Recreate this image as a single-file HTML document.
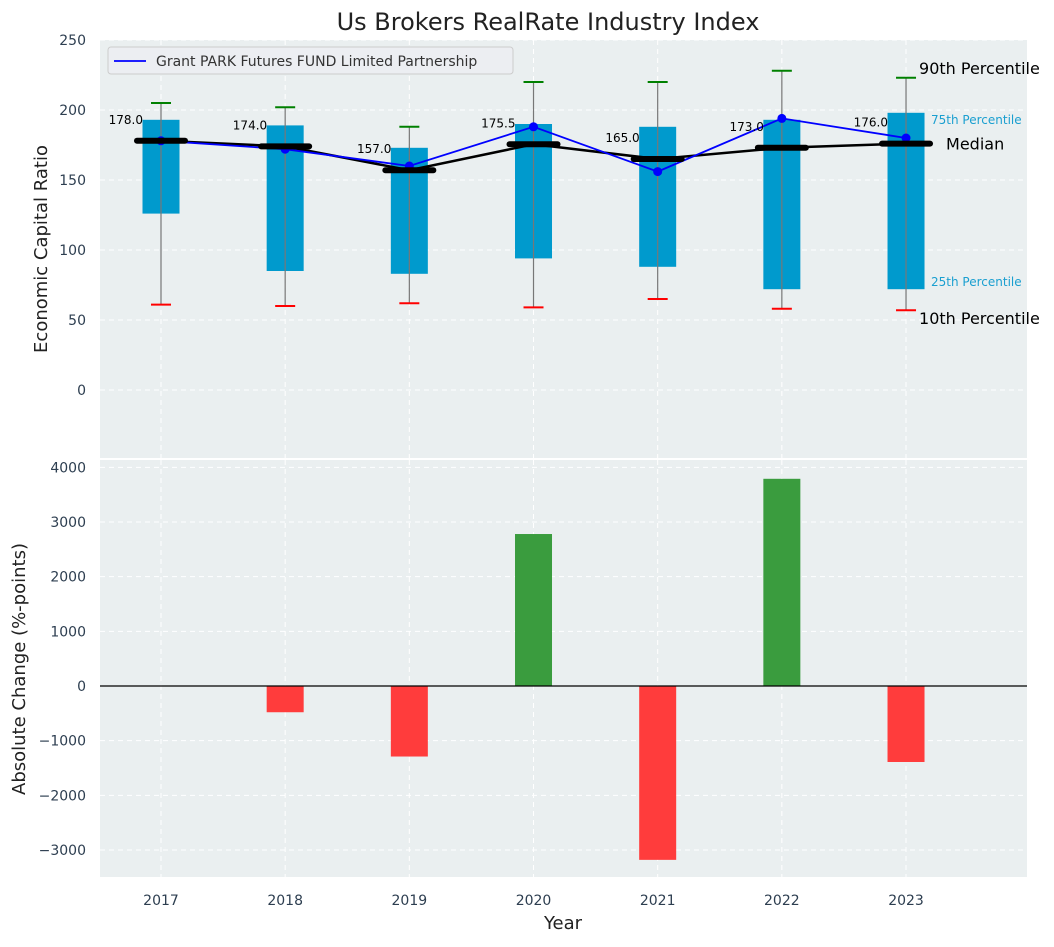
<!DOCTYPE html>
<html><head><meta charset="utf-8"><style>
body{margin:0;background:#fff;font-family:"Liberation Sans","DejaVu Sans",sans-serif;}
svg text{font-family:"DejaVu Sans","Liberation Sans",sans-serif;}
</style></head><body>
<svg id="chart" width="1054" height="942" xmlns="http://www.w3.org/2000/svg">
<text x="548" y="30" font-size="24" fill="#222" text-anchor="middle">Us Brokers RealRate Industry Index</text>
<rect x="100" y="40" width="927" height="418" fill="#eaeff0"/>
<rect x="100" y="460" width="927" height="417" fill="#eaeff0"/>
<g id="top"></g><g id="bot"></g>
<text x="563" y="929" font-size="18" fill="#222" text-anchor="middle">Year</text>
<text transform="translate(47,249) rotate(-90)" font-size="18" fill="#222" text-anchor="middle">Economic Capital Ratio</text>
<text transform="translate(25,669) rotate(-90)" font-size="18" fill="#222" text-anchor="middle">Absolute Change (%-points)</text>
</svg>
<script>
const years=[2017,2018,2019,2020,2021,2022,2023];
const p10=[61,60,62,59,65,58,57];
const p25=[126,85,83,94,88,72,72];
const median=[178,174,157,175.5,165,173,176];
const p75=[193,189,173,190,188,193,198];
const p90=[205,202,188,220,220,228,223];
const company=[178,172,160,188,156,194,180];
const changes=[0,-480,-1290,2780,-3180,3790,-1390];
const topTicks=[0,50,100,150,200,250];
const botTicks=[-3000,-2000,-1000,0,1000,2000,3000,4000];
const NS='http://www.w3.org/2000/svg';
const x=i=>161+i*124.17;
const yT=v=>390-1.4*v;
const yB=v=>686-0.05467*v;
function mk(p,t,a){const e=document.createElementNS(NS,t);for(const k in a)e.setAttribute(k,a[k]);p.appendChild(e);return e;}
const gTop=document.getElementById('top'),gBot=document.getElementById('bot');
years.forEach((yr,i)=>{
 let g=mk(gTop,'line',{x1:x(i),x2:x(i),y1:40,y2:458,stroke:'#fff','stroke-dasharray':'5,4','stroke-width':1});
 
 g=mk(gBot,'line',{x1:x(i),x2:x(i),y1:460,y2:877,stroke:'#fff','stroke-dasharray':'5,4','stroke-width':1});
 
 const t=mk(gBot,'text',{x:x(i),y:905,'font-size':14,fill:'#2d3e50','text-anchor':'middle'});t.textContent=yr;
 
});
topTicks.forEach(v=>{
 const g=mk(gTop,'line',{x1:100,x2:1027,y1:yT(v),y2:yT(v),stroke:'#fff','stroke-dasharray':'5,4'});
 
 const t=mk(gTop,'text',{x:86,y:yT(v)+5,'font-size':14,fill:'#2d3e50','text-anchor':'end'});t.textContent=v;
 
});
botTicks.forEach(v=>{
 const g=mk(gBot,'line',{x1:100,x2:1027,y1:yB(v),y2:yB(v),stroke:'#fff','stroke-dasharray':'5,4'});
 
 const t=mk(gBot,'text',{x:86,y:yB(v)+5,'font-size':14,fill:'#2d3e50','text-anchor':'end'});t.textContent=v<0?'\u2212'+(-v):v;
 
});
years.forEach((yr,i)=>{
 const cx=x(i);
 let r=mk(gTop,'rect',{x:cx-18.5,y:yT(p75[i]),width:37,height:yT(p25[i])-yT(p75[i]),fill:'#009acd'});
 
 let w=mk(gTop,'line',{x1:cx,x2:cx,y1:yT(p90[i]),y2:yT(p10[i]),stroke:'#777','stroke-width':1.2});
 
 let h=mk(gTop,'line',{x1:cx-10,x2:cx+10,y1:yT(p90[i]),y2:yT(p90[i]),stroke:'green','stroke-width':2});
 
 let l=mk(gTop,'line',{x1:cx-10,x2:cx+10,y1:yT(p10[i]),y2:yT(p10[i]),stroke:'red','stroke-width':2});
 
});
let mp=mk(gTop,'polyline',{points:median.map((v,i)=>x(i)+','+yT(v)).join(' '),fill:'none',stroke:'#000','stroke-width':2.5});

let cp=mk(gTop,'polyline',{points:company.map((v,i)=>x(i)+','+yT(v)).join(' '),fill:'none',stroke:'blue','stroke-width':1.8});

years.forEach((yr,i)=>{
 const cx=x(i);
 let c=mk(gTop,'circle',{cx:cx,cy:yT(company[i]),r:4.5,fill:'blue'});
 
 let m=mk(gTop,'line',{x1:cx-24,x2:cx+24,y1:yT(median[i]),y2:yT(median[i]),stroke:'#000','stroke-width':6,'stroke-linecap':'round'});
 
 let t=mk(gTop,'text',{x:cx-18,y:yT(median[i])-17,'font-size':12,fill:'#000','text-anchor':'end'});t.textContent=median[i].toFixed(1);
 
 const v=changes[i];
 let b=mk(gBot,'rect',{x:cx-18.5,y:Math.min(yB(v),yB(0)),width:37,height:Math.abs(yB(v)-yB(0)),fill:v>=0?'#3a9c3e':'#ff3c3c'});
 
});
let z=mk(gBot,'line',{x1:100,x2:1027,y1:yB(0),y2:yB(0),stroke:'#000','stroke-width':1.2});

const L=6,lx=x(L);
const ann=[['90th Percentile',lx+13,yT(p90[L])-4,16,'#000'],['75th Percentile',lx+25,yT(p75[L])+11,12,'#1a9fd0'],['Median',lx+40,yT(median[L])+6,16,'#000'],['25th Percentile',lx+25,yT(p25[L])-3,12,'#1a9fd0'],['10th Percentile',lx+13,yT(p10[L])+14,16,'#000']];
ann.forEach(a=>{let t=mk(gTop,'text',{x:a[1],y:a[2],'font-size':a[3],fill:a[4]});t.textContent=a[0];
 });
let lg=mk(gTop,'g',{});


mk(lg,'rect',{x:108,y:47,width:405,height:27,rx:3,fill:'#eceef2',stroke:'#ccc'});
mk(lg,'line',{x1:114,x2:146,y1:61,y2:61,stroke:'blue','stroke-width':1.8});
let lt=mk(lg,'text',{x:156,y:66,'font-size':14,fill:'#333'});lt.textContent='Grant PARK Futures FUND Limited Partnership';


</script>
</body></html>
